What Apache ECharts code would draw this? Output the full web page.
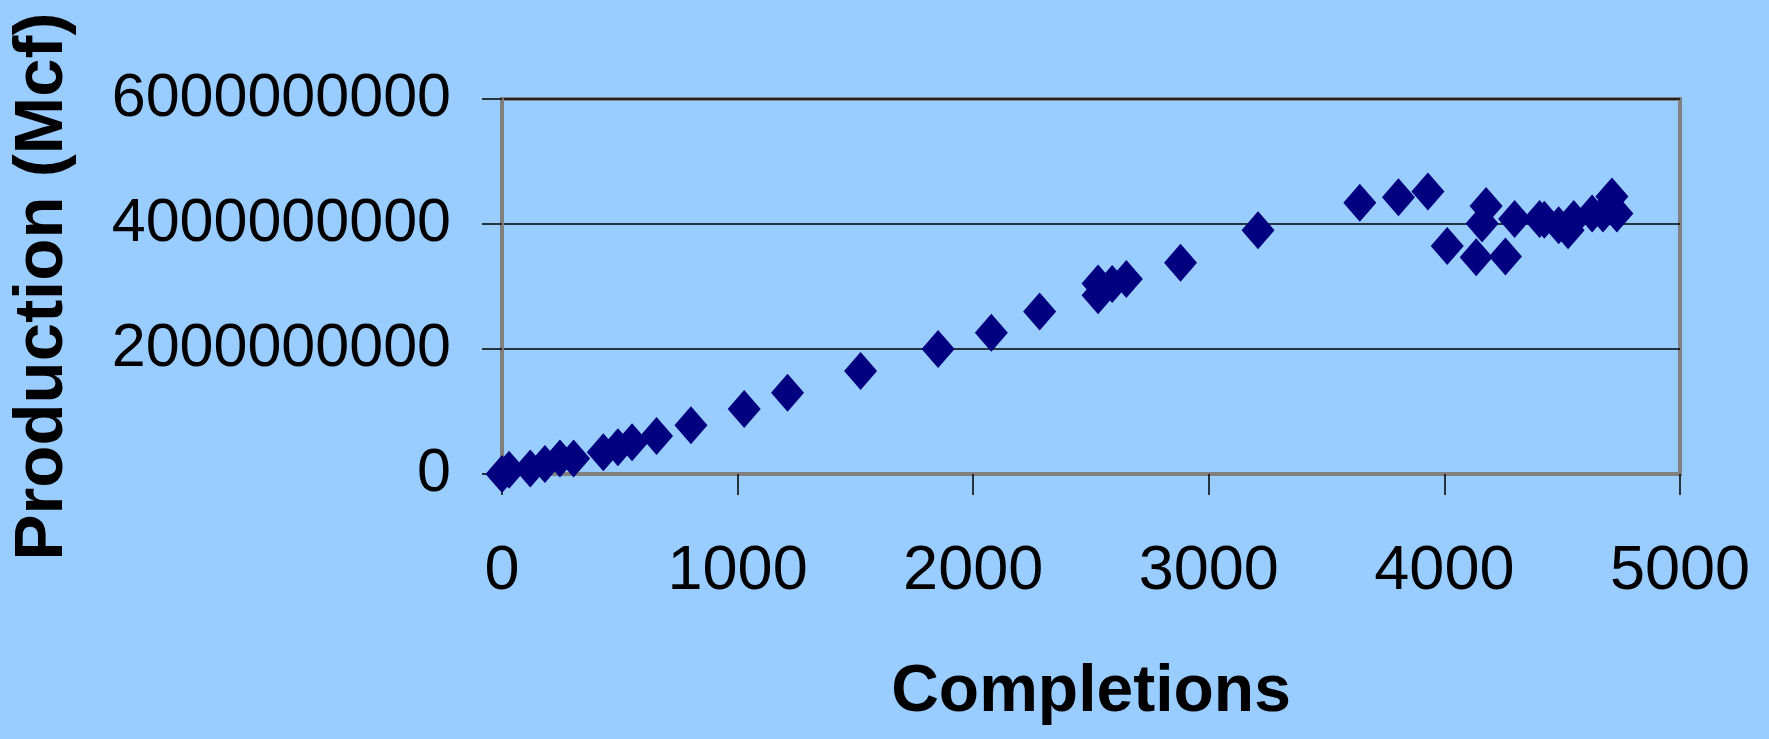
<!DOCTYPE html>
<html>
<head>
<meta charset="utf-8">
<style>
  html, body { margin: 0; padding: 0; background: #99CCFF; }
  #chart { width: 1769px; height: 739px; }
</style>
<script src="https://cdn.jsdelivr.net/npm/echarts@6/dist/echarts.min.js"></script>
</head>
<body>
<div id="chart"></div>
<script>
// Cumulative well completions (x) against cumulative production in Mcf (y)
const completions = [
  0, 30, 120, 182, 246, 304, 430, 492, 552, 656,
  802, 1028, 1212, 1522, 1851, 2077, 2282, 2530, 2530, 2590,
  2650, 2880, 3209, 3641, 3805, 3930, 4012, 4135, 4160, 4177,
  4259, 4298, 4404, 4424, 4485, 4525, 4549, 4627, 4673, 4711,
  4732
];
const productionMcf = [
  0, 70000000, 90000000, 160000000, 250000000, 250000000, 350000000, 430000000, 510000000, 610000000,
  780000000, 1040000000, 1300000000, 1650000000, 2000000000, 2260000000, 2600000000, 2860000000, 3050000000, 3040000000,
  3120000000, 3380000000, 3900000000, 4340000000, 4430000000, 4520000000, 3650000000, 3470000000, 4010000000, 4290000000,
  3480000000, 4080000000, 4080000000, 4070000000, 3980000000, 3900000000, 4080000000, 4170000000, 4170000000, 4440000000,
  4170000000
];
const xTicks = [0, 1000, 2000, 3000, 4000, 5000];
const yTicks = [0, 2000000000, 4000000000, 6000000000];

const points = completions.map((c, i) => [c, productionMcf[i]]);

const font = "'Liberation Sans', Arial, sans-serif";
const chart = echarts.init(document.getElementById('chart'), null, { renderer: 'canvas' });

chart.setOption({
  backgroundColor: '#99CCFF',
  animation: false,
  grid: {
    left: 499, top: 99, width: 1181, height: 375,
    show: true,
    backgroundColor: '#99CCFF',
    borderColor: '#808080',
    borderWidth: 4
  },
  xAxis: {
    type: 'value',
    min: xTicks[0],
    max: xTicks[xTicks.length - 1],
    interval: xTicks[1] - xTicks[0],
    name: 'Completions',
    nameLocation: 'middle',
    nameGap: 186,
    nameTextStyle: { fontFamily: font, fontWeight: 'bold', fontSize: 66, color: '#000' },
    axisLine: { show: true, lineStyle: { color: '#808080', width: 4 } },
    axisTick: { show: true, inside: false, length: 21, lineStyle: { color: '#000', width: 1.5 } },
    axisLabel: {
      margin: 66,
      fontFamily: font, fontSize: 63, color: '#000',
      formatter: v => String(v)
    },
    splitLine: { show: false }
  },
  yAxis: {
    type: 'value',
    min: yTicks[0],
    max: yTicks[yTicks.length - 1],
    interval: yTicks[1] - yTicks[0],
    name: 'Production (Mcf)',
    nameLocation: 'middle',
    nameGap: 425,
    nameRotate: 90,
    nameTextStyle: { fontFamily: font, fontWeight: 'bold', fontSize: 69, color: '#000' },
    axisLine: { show: true, lineStyle: { color: '#808080', width: 4 } },
    axisTick: { show: true, inside: false, length: 20, lineStyle: { color: '#000', width: 1.5 } },
    axisLabel: {
      margin: 51,
      fontFamily: font, fontSize: 61, color: '#000',
      formatter: v => String(v)
    },
    splitLine: { show: true, lineStyle: { color: '#000', width: 1.5 } }
  },
  series: [{
    type: 'scatter',
    data: points,
    symbol: 'diamond',
    symbolSize: [33, 38],
    clip: false,
    itemStyle: { color: '#000080', opacity: 1 }
  }]
});
</script>
</body>
</html>
